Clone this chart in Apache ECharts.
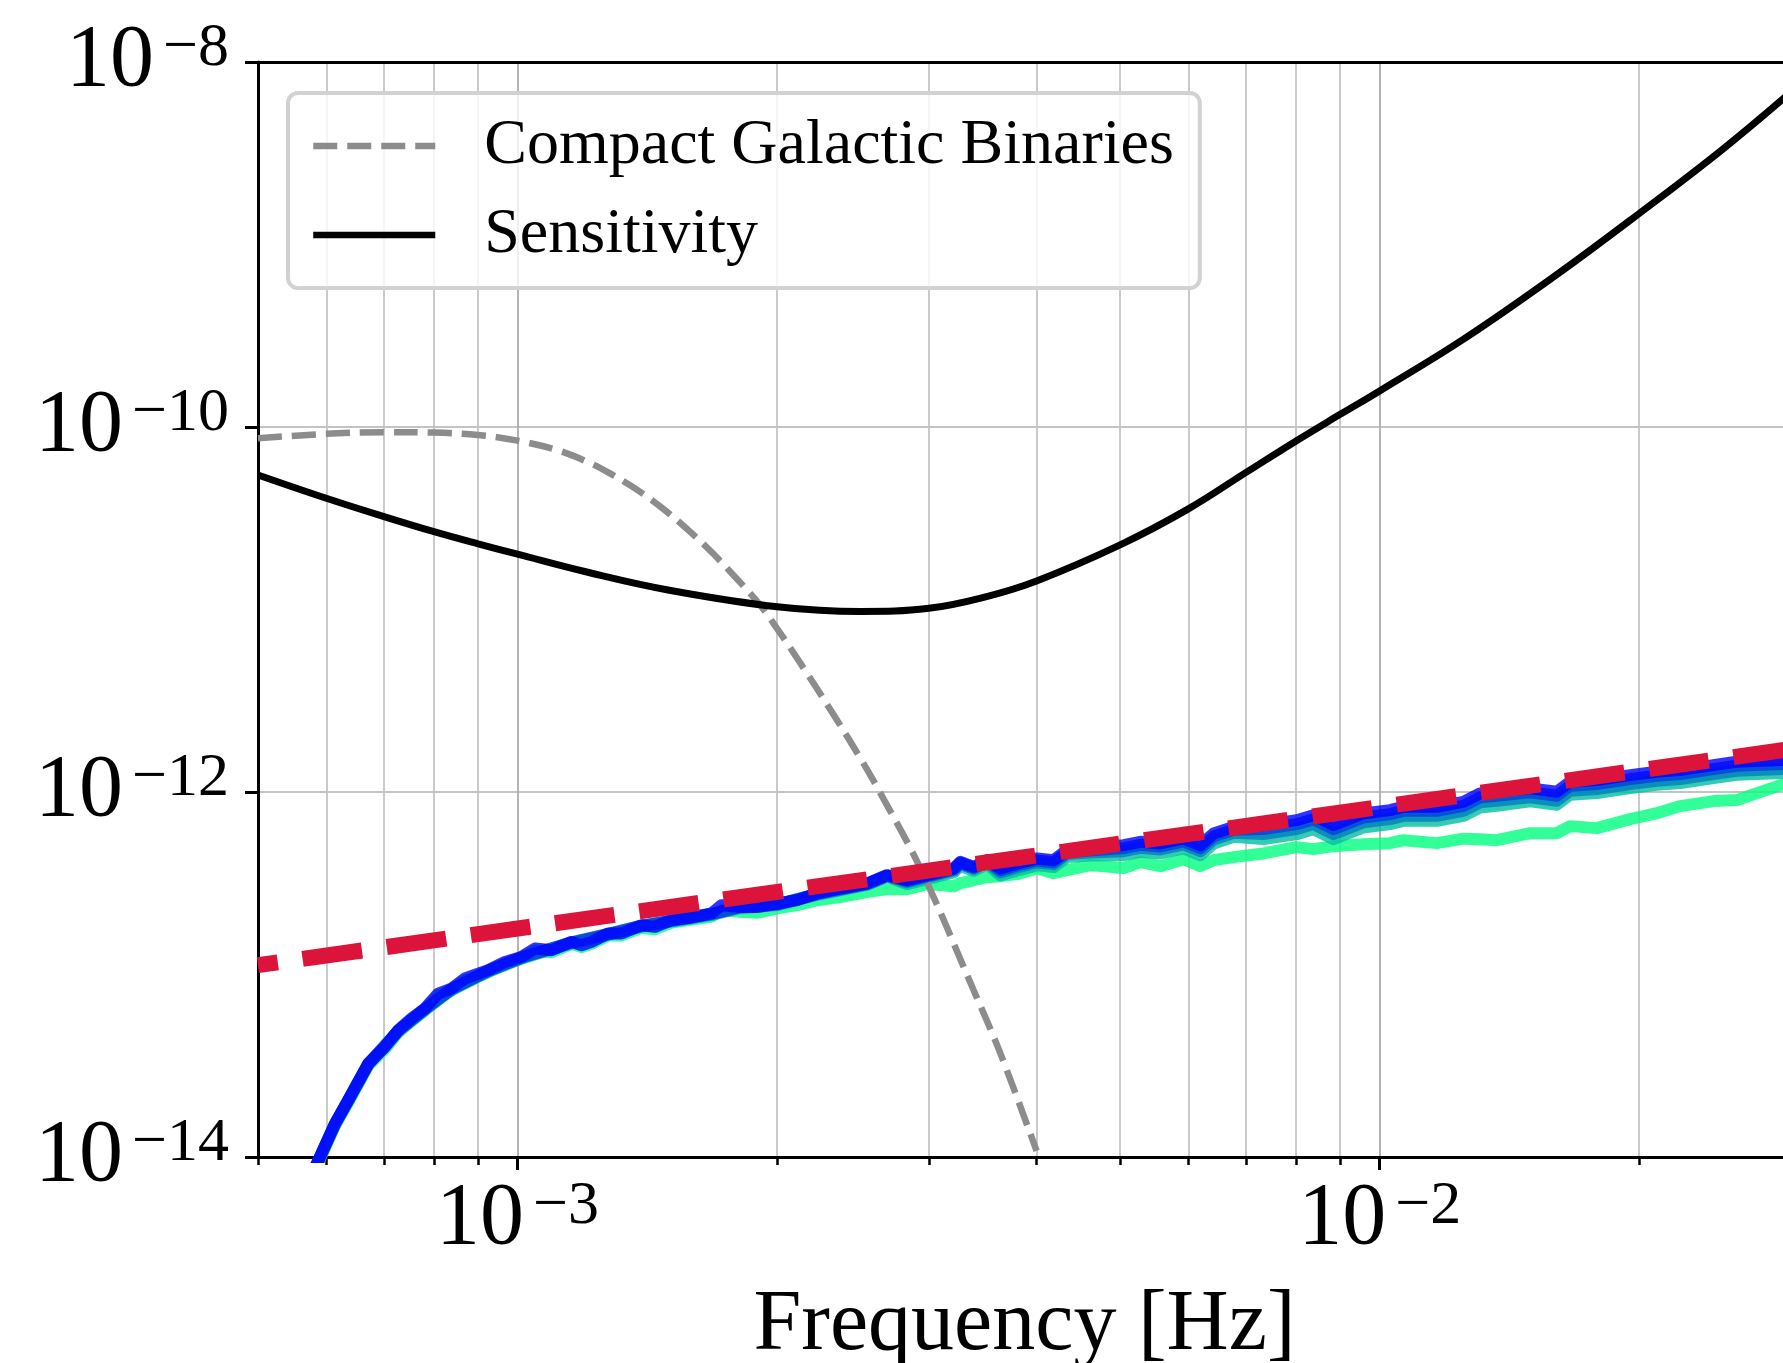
<!DOCTYPE html>
<html><head><meta charset="utf-8">
<script src="https://cdn.jsdelivr.net/npm/echarts@6/dist/echarts.min.js"></script>
<style>html,body{margin:0;padding:0;background:#fff}#c{width:1783px;height:1363px}</style>
</head><body><div id="c"></div>
<script>
// ---------------- data ----------------
const xMajorTicks = [1e-3, 1e-2];
const xMinorTicks = [5e-4, 6e-4, 7e-4, 8e-4, 9e-4, 2e-3, 3e-3, 4e-3, 5e-3, 6e-3, 7e-3, 8e-3, 9e-3, 2e-2, 3e-2];
const yTicks = [1e-14, 1e-12, 1e-10, 1e-8];

const sensFreq = [5e-4, 6e-4, 7e-4, 8e-4, 9e-4, 1e-3, 1.2e-3, 1.5e-3, 2e-3, 2.5e-3, 3e-3, 3.5e-3, 4e-3, 5e-3, 6e-3, 7e-3, 8e-3, 9e-3, 1e-2, 1.25e-2, 1.6e-2, 2e-2, 2.5e-2, 3e-2];
const sensVals = [5.46e-11, 4.07e-11, 3.23e-11, 2.67e-11, 2.29e-11, 2.01e-11, 1.61e-11, 1.276e-11, 1.036e-11, 9.75e-12, 1.015e-11, 1.177e-11, 1.433e-11, 2.26e-11, 3.56e-11, 5.64e-11, 8.39e-11, 1.173e-10, 1.577e-10, 3.02e-10, 6.77e-10, 1.479e-9, 3.33e-9, 6.85e-9];

const cgbFreq = [5.0e-4, 6.0e-4, 7.0e-4, 8.0e-4, 9.0e-4, 1.0e-3, 1.115e-3, 1.218e-3, 1.280e-3, 1.374e-3, 1.476e-3, 1.585e-3, 1.687e-3, 1.787e-3, 1.899e-3, 1.980e-3, 2.128e-3, 2.324e-3, 2.498e-3, 2.612e-3, 2.932e-3, 3.381e-3, 3.631e-3, 4.0e-3];
const cgbVals = [8.68e-11, 9.17e-11, 9.37e-11, 9.32e-11, 9.05e-11, 8.42e-11, 7.44e-11, 6.30e-11, 5.57e-11, 4.55e-11, 3.56e-11, 2.67e-11, 2.02e-11, 1.511e-11, 1.099e-11, 8.43e-12, 5.09e-12, 2.67e-12, 1.534e-12, 1.064e-12, 3.83e-13, 8.20e-14, 3.70e-14, 1.08e-14];

const fitFreq = [5e-4, 3e-2];
const fitVals = [1.125e-13, 1.72e-12];

const noiseFreq = [5.669e-4, 5.899e-4, 6.140e-4, 6.362e-4, 6.711e-4, 7.017e-4, 7.270e-4, 7.533e-4, 7.808e-4, 8.091e-4,
  8.384e-4, 8.688e-4, 9.248e-4, 9.669e-4, 1.0107e-3, 1.0476e-3, 1.0951e-3, 1.1552e-3, 1.1865e-3, 1.2186e-3,
  1.2742e-3, 1.3202e-3, 1.3925e-3, 1.4433e-3, 1.5087e-3, 1.5914e-3, 1.6792e-3, 1.7247e-3, 1.8034e-3, 1.9022e-3,
  2.0067e-3, 2.1094e-3, 2.2252e-3, 2.3677e-3, 2.5430e-3, 2.6825e-3, 2.8296e-3, 2.9849e-3, 3.2057e-3, 3.2636e-3,
  3.3815e-3, 3.5046e-3, 3.6306e-3, 3.7963e-3, 4.0046e-3, 4.1862e-3, 4.3385e-3, 4.6171e-3, 5.0471e-3, 5.2773e-3,
  5.5670e-3, 5.9241e-3, 6.1940e-3, 6.4179e-3, 6.7700e-3, 7.3297e-3, 8.0129e-3, 8.3785e-3, 8.8382e-3, 9.5743e-3,
  1.0282e-2, 1.0653e-2, 1.1647e-2, 1.2508e-2, 1.3078e-2, 1.3671e-2, 1.4945e-2, 1.6048e-2, 1.6632e-2, 1.7856e-2,
  1.9524e-2, 2.0963e-2, 2.2315e-2, 2.4386e-2, 2.5949e-2, 2.9395e-2, 3.0e-2];
const blueVals = [6.65e-15, 1.0e-14, 1.524e-14, 2.047e-14, 3.252e-14, 4.009e-14, 4.951e-14, 5.738e-14, 6.512e-14, 7.866e-14,
  8.377e-14, 9.508e-14, 1.056e-13, 1.172e-13, 1.249e-13, 1.388e-13, 1.359e-13, 1.509e-13, 1.447e-13, 1.509e-13,
  1.678e-13, 1.678e-13, 1.863e-13, 1.824e-13, 1.985e-13, 2.054e-13, 2.160e-13, 2.398e-13, 2.347e-13, 2.347e-13,
  2.450e-13, 2.554e-13, 2.780e-13, 2.960e-13, 3.155e-13, 3.502e-13, 3.289e-13, 3.502e-13, 3.812e-13, 4.142e-13,
  3.890e-13, 4.232e-13, 3.812e-13, 4.060e-13, 4.325e-13, 4.232e-13, 4.802e-13, 4.906e-13, 5.115e-13, 5.333e-13,
  5.226e-13, 5.566e-13, 5.115e-13, 5.929e-13, 6.444e-13, 6.583e-13, 7.011e-13, 7.467e-13, 6.583e-13, 7.629e-13,
  7.953e-13, 8.292e-13, 8.292e-13, 8.836e-13, 9.824e-13, 1.0025e-12, 1.0464e-12, 1.0025e-12, 1.1374e-12, 1.1620e-12,
  1.2378e-12, 1.2904e-12, 1.3186e-12, 1.4044e-12, 1.4641e-12, 1.4958e-12, 1.50e-12];
const greenVals = [6.49e-15, 9.75e-15, 1.486e-14, 1.995e-14, 3.171e-14, 3.909e-14, 4.828e-14, 5.594e-14, 6.349e-14, 7.670e-14,
  8.171e-14, 9.271e-14, 1.029e-13, 1.143e-13, 1.218e-13, 1.354e-13, 1.325e-13, 1.472e-13, 1.412e-13, 1.472e-13,
  1.636e-13, 1.636e-13, 1.805e-13, 1.771e-13, 1.923e-13, 1.997e-13, 2.074e-13, 2.252e-13, 2.210e-13, 2.182e-13,
  2.310e-13, 2.398e-13, 2.554e-13, 2.653e-13, 2.825e-13, 2.935e-13, 2.935e-13, 3.127e-13, 3.048e-13, 3.166e-13,
  3.289e-13, 3.415e-13, 3.458e-13, 3.547e-13, 3.826e-13, 3.592e-13, 3.731e-13, 3.974e-13, 3.826e-13, 4.127e-13,
  3.924e-13, 4.286e-13, 3.924e-13, 4.232e-13, 4.395e-13, 4.606e-13, 4.986e-13, 4.863e-13, 5.050e-13, 5.179e-13,
  5.245e-13, 5.447e-13, 5.245e-13, 5.551e-13, 5.516e-13, 5.447e-13, 5.951e-13, 5.951e-13, 6.501e-13, 6.339e-13,
  7.101e-13, 7.659e-13, 8.368e-13, 8.914e-13, 9.028e-13, 1.1046e-12, 1.12e-12];

const midFreq = [5.669e-4, 6.140e-4, 6.711e-4, 7.270e-4, 7.808e-4, 8.384e-4, 9.248e-4, 1.0107e-3, 1.1552e-3, 1.2742e-3,
  1.3925e-3, 1.5087e-3, 1.6792e-3, 1.8034e-3, 2.0067e-3, 2.2252e-3, 2.5430e-3, 2.6825e-3,
  2.8296e-3, 2.9849e-3, 3.2057e-3, 3.2636e-3, 3.3815e-3, 3.5046e-3, 3.6306e-3, 3.7963e-3, 4.0046e-3, 4.1862e-3,
  4.3385e-3, 4.6171e-3, 5.0471e-3, 5.2773e-3, 5.5670e-3, 5.9241e-3, 6.1940e-3, 6.4179e-3, 6.7700e-3, 7.3297e-3,
  8.0129e-3, 8.3785e-3, 8.8382e-3, 9.5743e-3, 1.0282e-2, 1.0653e-2, 1.1647e-2, 1.2508e-2, 1.3078e-2, 1.3671e-2,
  1.4945e-2, 1.6048e-2, 1.6632e-2, 1.7856e-2, 1.9524e-2, 2.0963e-2, 2.2315e-2, 2.4386e-2, 2.5949e-2, 2.9395e-2, 3.0e-2];
const mid1Vals = [6.61e-15, 1.515e-14, 3.232e-14, 4.921e-14, 6.473e-14, 8.327e-14, 1.050e-13, 1.241e-13, 1.500e-13, 1.668e-13,
  1.852e-13, 1.973e-13, 2.147e-13, 2.333e-13, 2.435e-13, 2.763e-13, 3.136e-13, 3.481e-13,
  3.250e-13, 3.460e-13, 3.766e-13, 4.092e-13, 3.843e-13, 4.181e-13, 3.717e-13, 3.959e-13, 4.217e-13, 4.126e-13,
  4.682e-13, 4.783e-13, 4.926e-13, 5.136e-13, 5.033e-13, 5.360e-13, 4.926e-13, 5.710e-13, 6.206e-13, 6.260e-13,
  6.667e-13, 7.101e-13, 6.260e-13, 7.255e-13, 7.563e-13, 7.886e-13, 7.886e-13, 8.403e-13, 9.343e-13, 9.534e-13,
  9.951e-13, 9.534e-13, 1.0817e-12, 1.1051e-12, 1.1771e-12, 1.2272e-12, 1.2540e-12, 1.3356e-12, 1.3924e-12, 1.4225e-12, 1.4265e-12];
const mid2Vals = [6.57e-15, 1.506e-14, 3.213e-14, 4.892e-14, 6.434e-14, 8.276e-14, 1.043e-13, 1.234e-13, 1.491e-13, 1.658e-13,
  1.841e-13, 1.961e-13, 2.134e-13, 2.319e-13, 2.421e-13, 2.747e-13, 3.117e-13, 3.460e-13,
  3.207e-13, 3.414e-13, 3.717e-13, 4.038e-13, 3.793e-13, 4.126e-13, 3.625e-13, 3.861e-13, 4.113e-13, 4.025e-13,
  4.567e-13, 4.666e-13, 4.742e-13, 4.944e-13, 4.845e-13, 5.160e-13, 4.742e-13, 5.496e-13, 5.974e-13, 5.879e-13,
  6.261e-13, 6.668e-13, 5.879e-13, 6.813e-13, 7.102e-13, 7.405e-13, 7.405e-13, 7.891e-13, 8.773e-13, 8.952e-13,
  9.344e-13, 8.952e-13, 1.0157e-12, 1.0377e-12, 1.1054e-12, 1.1523e-12, 1.1775e-12, 1.2541e-12, 1.3074e-12, 1.3357e-12, 1.3395e-12];
const mid3Vals = [6.52e-15, 1.495e-14, 3.190e-14, 4.857e-14, 6.388e-14, 8.218e-14, 1.036e-13, 1.225e-13, 1.480e-13, 1.646e-13,
  1.828e-13, 1.947e-13, 2.119e-13, 2.302e-13, 2.403e-13, 2.727e-13, 3.095e-13, 3.435e-13,
  3.128e-13, 3.330e-13, 3.625e-13, 3.939e-13, 3.699e-13, 4.025e-13, 3.492e-13, 3.719e-13, 3.962e-13, 3.877e-13,
  4.399e-13, 4.494e-13, 4.506e-13, 4.698e-13, 4.604e-13, 4.904e-13, 4.506e-13, 5.223e-13, 5.677e-13, 5.517e-13,
  5.875e-13, 6.257e-13, 5.517e-13, 6.393e-13, 6.665e-13, 6.949e-13, 6.949e-13, 7.405e-13, 8.233e-13, 8.401e-13,
  8.884e-13, 8.511e-13, 9.657e-13, 9.865e-13, 1.0509e-12, 1.0955e-12, 1.1195e-12, 1.1923e-12, 1.2430e-12, 1.2699e-12, 1.2735e-12];

// ---------------- chart ----------------
const FONT = 'Liberation Serif';
const pairs = (f, v) => f.map((x, i) => [x, v[i]]);
function inList(v, list) { return list.some(t => Math.abs(Math.log10(v) - Math.log10(t)) < 1e-6); }
function powLabel(list) {
  return function (v) {
    if (!inList(v, list)) return '';
    const e = Math.round(Math.log10(v));
    return '{b|10}{s|\u2212' + Math.abs(e) + '}';
  };
}
const richPow = {
  b: { fontFamily: FONT, fontSize: 88, lineHeight: 88, color: '#000', verticalAlign: 'bottom', padding: [12, 0, 0, 0] },
  s: { fontFamily: FONT, fontSize: 62, lineHeight: 62, color: '#000', verticalAlign: 'top', padding: [0, 0, 0, 9] }
};
const XMIN = 5e-4, XMAX = 3e-2;

function noisy(name, f, v, color, z) {
  return { name, type: 'line', data: pairs(f, v), symbol: 'none', z, clip: true, silent: true,
    lineStyle: { color, width: 12, opacity: 0.8, cap: 'round', join: 'round' } };
}

const option = {
  animation: false,
  backgroundColor: '#fff',
  grid: { left: 258, top: 62, width: 1533, height: 1095, containLabel: false, outerBoundsMode: 'none' },
  legend: {
    data: ['Compact Galactic Binaries', 'Sensitivity'],
    orient: 'vertical', left: 288, top: 93, z: 20,
    selectedMode: false,
    itemWidth: 122, itemHeight: 4, itemGap: 25,
    padding: [21, 26, 21, 22],
    backgroundColor: 'rgba(255,255,255,0.8)', borderColor: '#d2d2d2', borderWidth: 4, borderRadius: 10,
    textStyle: { fontFamily: FONT, fontSize: 64, lineHeight: 64, color: '#000', padding: [0, 0, 0, 44] },
    lineStyle: { width: 6.5 },
    itemStyle: { opacity: 0 }
  },
  xAxis: [
    { type: 'log', logBase: 10, min: XMIN, max: XMAX, position: 'bottom', z: 3,
      name: 'Frequency [Hz]', nameLocation: 'middle', nameGap: 126, nameMoveOverlap: false,
      nameTextStyle: { fontFamily: FONT, fontSize: 86, color: '#000' },
      axisLine: { show: true, onZero: false, lineStyle: { color: '#000', width: 3 } },
      axisTick: { show: true, inside: false, length: 13, customValues: xMajorTicks, lineStyle: { color: '#000', width: 3 } },
      axisLabel: { show: true, margin: 19, customValues: xMajorTicks, formatter: powLabel(xMajorTicks), rich: richPow, showMinLabel: true, showMaxLabel: true },
      splitLine: { show: true, lineStyle: { color: '#b4b4b4', width: 2 } },
      minorTick: { show: false }, minorSplitLine: { show: false } },
    { type: 'log', logBase: 10, min: XMIN, max: XMAX, position: 'bottom', z: 1,
      axisLine: { show: false, onZero: false },
      axisTick: { show: true, inside: false, length: 8, customValues: xMinorTicks, lineStyle: { color: '#000', width: 2.5 } },
      axisLabel: { show: false },
      splitLine: { show: true, lineStyle: { color: '#cacaca', width: 2 } } },
    { type: 'log', logBase: 10, min: XMIN, max: XMAX, position: 'top', z: 4,
      axisLine: { show: true, onZero: false, lineStyle: { color: '#000', width: 3 } },
      axisTick: { show: false }, axisLabel: { show: false }, splitLine: { show: false } }
  ],
  yAxis: [
    { type: 'log', logBase: 10, min: 1e-14, max: 1e-8, position: 'left', z: 2,
      axisLine: { show: true, onZero: false, lineStyle: { color: '#000', width: 3 } },
      axisTick: { show: true, inside: false, length: 13, customValues: yTicks, lineStyle: { color: '#000', width: 3 } },
      axisLabel: { show: true, margin: 29, customValues: yTicks, formatter: powLabel(yTicks), rich: richPow, showMinLabel: true, showMaxLabel: true },
      splitLine: { show: true, lineStyle: { color: '#c4c4c4', width: 2 } },
      minorTick: { show: false }, minorSplitLine: { show: false } }
  ],
  series: [
    noisy('n4', noiseFreq, greenVals, '#00ff80', 10),
    noisy('n3', midFreq, mid3Vals, '#00bf9f', 10),
    noisy('n2', midFreq, mid2Vals, '#0080bf', 10),
    noisy('n1', midFreq, mid1Vals, '#0040df', 10),
    noisy('n0', noiseFreq, blueVals, '#0000ff', 10),
    { name: 'Compact Galactic Binaries', type: 'line', data: pairs(cgbFreq, cgbVals), symbol: 'none', smooth: 0.35, z: 12, silent: true,
      lineStyle: { color: '#8c8c8c', width: 6.5, type: [24, 10], cap: 'butt' } },
    { name: 'Sensitivity', type: 'line', data: pairs(sensFreq, sensVals), symbol: 'none', smooth: 0.4, z: 12, silent: true,
      lineStyle: { color: '#000', width: 7 } },
    { name: 'fit', type: 'line', data: pairs(fitFreq, fitVals), symbol: 'none', z: 14, silent: true,
      lineStyle: { color: '#dc143c', width: 16, type: [60, 25], dashOffset: 40, cap: 'butt' } }
  ]
};
const chart = echarts.init(document.getElementById('c'), null, { renderer: 'canvas', width: 1783, height: 1363 });
chart.setOption(option);
</script>
</body></html>
